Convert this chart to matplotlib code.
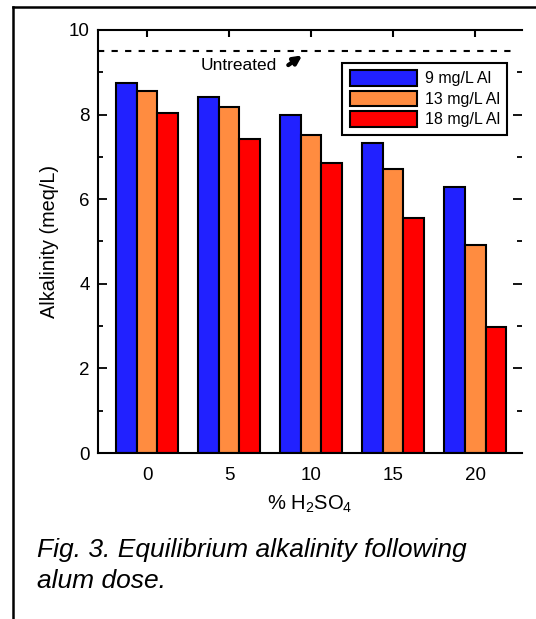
import numpy as np
import matplotlib
matplotlib.use("Agg")
import matplotlib.pyplot as plt
from matplotlib.lines import Line2D
from matplotlib.ticker import MultipleLocator

plt.rcParams["font.family"] = ["Liberation Sans", "DejaVu Sans"]

# data
acid = ["0", "5", "10", "15", "20"]          # % H2SO4
doses = ["9 mg/L Al", "13 mg/L Al", "18 mg/L Al"]
alk_9 = [8.74, 8.42, 7.99, 7.34, 6.28]
alk_13 = [8.56, 8.19, 7.52, 6.71, 4.92]
alk_18 = [8.04, 7.42, 6.86, 5.55, 2.99]
untreated = 9.5

colors = ["#2121ff", "#ff8c40", "#ff0000"]

fig = plt.figure(figsize=(5.36, 6.19), dpi=100)
ax = fig.add_axes([98 / 536, 1 - 453 / 619, 424 / 536, 423 / 619])

x = np.arange(len(acid))
w = 0.25
for k, (vals, lab, c) in enumerate(zip([alk_9, alk_13, alk_18], doses, colors)):
    ax.bar(x + (k - 1) * w, vals, w, color=c, edgecolor="black", linewidth=1.5,
           label=lab, zorder=2)

# untreated reference
ax.axhline(untreated, xmin=0, xmax=0.983, color="black", lw=1.5,
           linestyle=(0, (3, 3.5)), zorder=1)
ax.text(0.65, 9.17, "Untreated", fontsize=12.5, va="center", ha="left")
ax.annotate("", xy=(1.89, 9.40), xytext=(1.72, 9.17),
            arrowprops=dict(arrowstyle="-|>", lw=3, color="black",
                            mutation_scale=12, shrinkA=0, shrinkB=0))

ax.set_xlim(-0.6, 4.57)
ax.set_ylim(0, 10)
ax.set_xticks(x)
ax.set_xticklabels(acid)
ax.yaxis.set_major_locator(MultipleLocator(2))
ax.yaxis.set_minor_locator(MultipleLocator(1))

ax.spines["right"].set_visible(False)
for s in ["left", "top", "bottom"]:
    ax.spines[s].set_linewidth(1.5)

ax.tick_params(axis="x", which="major", bottom=False, top=True, direction="in",
               length=5, width=1.5, labelsize=13.5, pad=10)
ax.tick_params(axis="y", which="major", left=True, right=True, direction="in",
               length=6.5, width=1.3, labelsize=13.5, pad=6)
ax.tick_params(axis="y", which="minor", left=True, right=True, direction="in",
               length=3.5, width=1.3)

ax.set_xlabel("% H$\\mathregular{_2}$SO$\\mathregular{_4}$", fontsize=14.5, labelpad=7)
ax.set_ylabel("Alkalinity (meq/L)", fontsize=14.3, labelpad=7)

leg = ax.legend(loc="upper right", bbox_to_anchor=(0.9646, 0.922), fontsize=11.5,
                handlelength=4.2, handleheight=1.1, labelspacing=0.28,
                borderpad=0.45, handletextpad=0.5, fancybox=False,
                framealpha=1, edgecolor="black", borderaxespad=0)
leg.get_frame().set_linewidth(1.5)

# frame around the figure panel (cut by the image edges)
x0 = 13 / 536
y0 = 1 - 7 / 619
fig.add_artist(Line2D([x0, x0], [0, y0], transform=fig.transFigure, color="black", lw=1.8))
fig.add_artist(Line2D([x0, 1], [y0, y0], transform=fig.transFigure, color="black", lw=1.8))

# caption
fig.text(37 / 536, 1 - 556.7 / 619, "Fig. 3. Equilibrium alkalinity following",
         fontsize=19, style="italic", va="baseline", ha="left")
fig.text(37 / 536, 1 - 588 / 619, "alum dose.",
         fontsize=19, style="italic", va="baseline", ha="left")

fig.savefig("out.png", dpi=100)
